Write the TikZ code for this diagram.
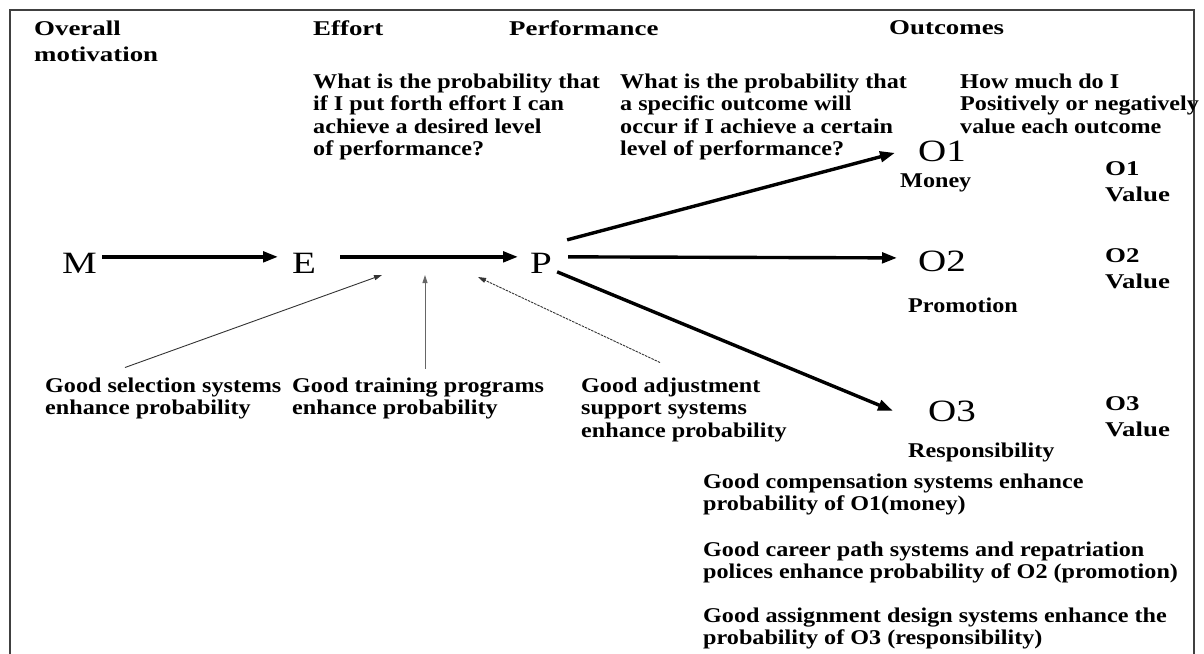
\documentclass[tikz,border=0pt]{standalone}
\usepackage{fontspec}
\setmainfont{Liberation Serif}
% widened Times-like faces
\newfontfamily\bodyfont{Liberation Serif}[FakeStretch=1.15]
\newfontfamily\widefont{Liberation Serif}[FakeStretch=1.28]
\newfontfamily\letterfont{Liberation Serif}[FakeStretch=1.26]
\usetikzlibrary{arrows.meta}

\begin{document}
\begin{tikzpicture}[x=1pt,y=-1pt,
  hd/.style={font=\widefont\bfseries\fontsize{21}{26}\selectfont, inner sep=0pt, anchor=north west, align=left},
  tx/.style={font=\bodyfont\bfseries\fontsize{21}{22.5}\selectfont, inner sep=0pt, anchor=north west, align=left},
  lbl/.style={font=\bodyfont\bfseries\fontsize{21}{22.5}\selectfont, inner sep=0pt, anchor=base west},
  letter/.style={font=\letterfont\fontsize{31}{31}\selectfont, inner sep=0pt, anchor=base west},
  thick arrow/.style={line width=3.4pt, -{Triangle[length=15pt,width=10.5pt]}},
  thin arrow/.style={line width=0.9pt, black!80, -{Triangle[length=8pt,width=5pt]}},
  frame/.style={line width=2pt, black!75}
]
\useasboundingbox (0,0) rectangle (1204,653);

% open frame
\draw[frame] (10,660) -- (10,10) -- (1194,10) -- (1194,660);

% column headings
\node[hd] (hmot)  at (34,20.5)  {Overall\\motivation};
\node[hd] (heff)  at (313,20.5) {Effort};
\node[hd] (hperf) at (509,20.5) {Performance};
\node[hd] (hout)  at (889,20.5) {Outcomes};

% questions
\node[tx] (q1) at (313,73.5) {What is the probability that\\if I put forth effort I can\\achieve a desired level\\of performance?};
\node[tx] (q2) at (620,73.5) {What is the probability that\\a specific outcome will\\occur if I achieve a certain\\level of performance?};
\node[tx] (q3) at (960,73.5) {How much do I\\Positively or negatively\\value each outcome};

% chain letters
\node[letter] (M)  at (62,273)  {M};
\node[letter] (E)  at (292,273) {E};
\node[letter] (P)  at (530,273) {P};
\node[letter] (O1) at (918,161) {O1};
\node[letter] (O2) at (918,271) {O2};
\node[letter] (O3) at (928,421) {O3};

% outcome names
\node[lbl] (money) at (900,187) {Money};
\node[lbl] (promo) at (908,312) {Promotion};
\node[lbl] (resp)  at (908,457) {Responsibility};

% outcome values
\node[hd] (v1) at (1105,161) {O1\\Value};
\node[hd] (v2) at (1105,248) {O2\\Value};
\node[hd] (v3) at (1105,396) {O3\\Value};

% enhancing practices
\node[tx] (sel) at (45,377.5)  {Good selection systems\\enhance probability};
\node[tx] (trn) at (292,377.5) {Good training programs\\enhance probability};
\node[tx] (adj) at (581,377.5) {Good adjustment\\support systems\\enhance probability};

\node[tx] (c1) at (703,473.5) {Good compensation systems enhance\\probability of O1(money)};
\node[tx] (c2) at (703,541.5) {Good career path systems and repatriation\\polices enhance probability of O2 (promotion)};
\node[tx] (c3) at (703,607.5) {Good assignment design systems enhance the\\probability of O3 (responsibility)};

% main chain
\draw[thick arrow] ([shift={(5,-6)}]M.east) -- ([shift={(-14,-6)}]E.west);
\draw[thick arrow] ([shift={(24,-6)}]E.east) -- ([shift={(-12,-6)}]P.west);
\draw[thick arrow] ([shift={(15,-23)}]P.east) -- ([shift={(-23,2)}]O1.west);
\draw[thick arrow] ([shift={(16,-6)}]P.east) -- ([shift={(-21,-3)}]O2.west);
\draw[thick arrow] ([shift={(5,9)}]P.east) -- ([shift={(-35,0)}]O3.west);

% influences on the effort-performance link
\coordinate (e1) at (382,275);
\coordinate (e2) at (425,275);
\coordinate (e3) at (478,277);
\draw[thin arrow] ([shift={(80,-10)}]sel.north west) -- (e1);
\draw[thin arrow, black!60] ([shift={(133,-9)}]trn.north west) -- (e2);
\draw[thin arrow, dash pattern=on 2.5pt off 1pt] ([shift={(79,-15)}]adj.north west) -- (e3);
\end{tikzpicture}
\end{document}
